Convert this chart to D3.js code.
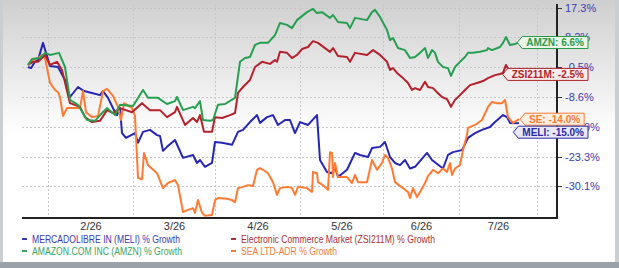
<!DOCTYPE html>
<html>
<head>
<meta charset="utf-8">
<script src="https://cdn.jsdelivr.net/npm/d3@7"></script>
<style>
  html, body { margin: 0; padding: 0; background: #fff; }
  svg { display: block; font-family: "Liberation Sans", Arial, sans-serif; }
</style>
</head>
<body>
<script>
// right axis tick values (%)
const yTicks = [17.3, 8.2, -0.5, -8.6, -15.9, -23.3, -30.1];
// month boundaries, in trading-day index
const monthStarts = [5, 26.25, 46.75, 68, 88.75, 107.75, 127.25];
const monthLabels = ["2/26", "3/26", "4/26", "5/26", "6/26", "7/26"];

// [day, % growth]
const meli = [[0,-0.5],[0.75,-0.8],[1.75,1.0],[2.5,1.5],[3.75,6.5],[5.5,-0.2],[7.5,-0.5],[9.25,-4.0],[10.5,-8.6],[12.5,-5.9],[14,-7.0],[16,-7.5],[18,-8.1],[18.75,-7.0],[20,-8.8],[21.75,-12.3],[22.25,-13.0],[23,-11.3],[23.5,-17.4],[24.5,-18.6],[26.75,-17.4],[27.5,-19.8],[28.75,-17.1],[30.5,-16.6],[32.25,-17.9],[33,-18.1],[33.75,-21.8],[34.75,-20.8],[36.75,-19.1],[38.75,-23.5],[41.25,-22.8],[42.25,-24.7],[43,-24.0],[44.25,-25.6],[46,-24.7],[46.75,-19.6],[48.5,-19.8],[51,-20.3],[52.5,-17.1],[53.75,-16.6],[55.5,-14.7],[57.25,-13.0],[58,-14.9],[59.75,-13.5],[61.25,-13.0],[62.5,-15.4],[64.25,-14.2],[65.5,-14.2],[66.75,-17.4],[68,-14.7],[70,-15.4],[72.25,-13.0],[73,-24.0],[74.75,-26.8],[76,-27.1],[76.75,-25.6],[77.5,-28.0],[79.75,-26.3],[81.75,-22.3],[83,-22.8],[85,-23.3],[86,-21.1],[88,-20.8],[89.25,-19.6],[90.5,-23.3],[91.75,-24.7],[93,-25.2],[94.25,-24.0],[95.5,-26.0],[96.75,-25.6],[99.75,-22.3],[101,-24.0],[103.75,-26.0],[105,-22.8],[106.25,-22.1],[108.5,-21.6],[110,-18.6],[111.75,-17.4],[113.5,-16.6],[115.5,-15.9],[116.75,-14.7],[118.75,-13.0],[119.75,-13.5],[120.5,-14.9],[122.75,-15.0]];

const zsi = [[0,0.1],[1.25,1.0],[2.5,1.0],[3.5,2.1],[4.25,3.0],[5.5,0.1],[7.25,1.0],[8.5,-1.3],[10.5,-10.1],[13,-11.0],[14.25,-13.5],[16,-14.7],[18,-14.4],[19.75,-11.8],[21.25,-12.5],[23,-11.3],[26,-12.3],[28.5,-10.1],[30.5,-11.8],[33,-11.8],[34.75,-13.5],[36.75,-12.3],[37.25,-11.0],[39.25,-15.4],[41.25,-13.7],[42.25,-14.7],[43,-13.0],[44,-17.1],[46,-17.1],[46.75,-13.5],[48.5,-13.7],[50.5,-13.0],[51.75,-12.5],[52.5,-7.5],[53.75,-5.9],[55.5,-4.0],[56.75,-0.5],[58.5,1.0],[60.5,0.4],[61.75,1.5],[62.25,1.0],[63,3.9],[64.75,3.6],[66,2.1],[67.25,3.0],[68.5,4.7],[70,5.3],[71.25,7.0],[72.5,6.5],[75.5,3.9],[76.25,5.0],[77.5,2.7],[79.75,2.4],[80.5,1.0],[81.75,3.6],[84.75,3.0],[86.25,4.4],[88,3.0],[89.75,1.0],[90.5,-1.3],[91.25,-0.8],[92.25,-2.1],[93.75,-3.5],[95,-4.8],[96,-6.7],[96.75,-6.2],[98,-6.7],[99.25,-4.5],[100,-5.9],[101.25,-6.2],[102.25,-7.3],[103.5,-8.6],[104.75,-9.1],[105.75,-11.0],[106.75,-9.3],[108,-8.1],[109.25,-6.7],[110.5,-5.4],[112.25,-4.8],[113.75,-4.3],[115,-3.5],[116.75,-2.7],[118,-2.4],[118.75,-2.1],[119.5,0.1],[120.5,-1.9],[121.75,-2.1],[122.75,-2.5]];

const amzn = [[0,0.1],[1,1.8],[3,2.1],[4.25,3.6],[5.5,3.0],[7.75,3.6],[9.25,-0.5],[10.5,-9.3],[12.5,-10.5],[14.75,-14.2],[16.75,-14.4],[18.5,-12.5],[19.75,-11.3],[21.75,-13.0],[23,-10.5],[26.25,-10.8],[28.75,-6.7],[30,-8.8],[32.5,-8.8],[34.75,-10.3],[36.75,-9.6],[37.25,-8.6],[38.75,-11.8],[41.25,-11.0],[41.75,-11.3],[43,-9.6],[43.75,-14.2],[45.5,-14.4],[46.25,-14.2],[47.5,-10.5],[49.25,-10.3],[51.75,-8.8],[53,1.0],[54.25,2.1],[55.5,2.4],[56.75,5.9],[58,6.5],[60,6.5],[61.75,8.8],[63,12.6],[64.75,12.0],[66,11.0],[67.25,13.5],[69.75,16.0],[71.25,17.0],[72.25,15.7],[73.5,16.0],[75.5,14.2],[76.25,15.1],[77.5,12.9],[79.75,12.6],[80.5,11.0],[81.75,14.2],[84.75,13.5],[86,16.0],[86.75,16.7],[88,14.5],[89.75,10.4],[90.5,7.3],[91.25,7.9],[92.5,5.0],[94.25,4.4],[95.5,2.1],[96.75,2.4],[98,3.6],[99.25,5.0],[100,2.1],[101,4.4],[101.75,3.6],[102.5,1.0],[103.75,-0.5],[105,-0.8],[105.75,-2.9],[106.75,-0.5],[108,1.0],[109.25,2.4],[110,3.6],[111.25,3.6],[113,3.9],[114.75,4.4],[115,5.0],[116,4.4],[118,5.3],[118.75,6.5],[119.5,8.2],[120.5,5.9],[121.75,6.2],[122.75,6.6]];

const sea = [[0,0.1],[1,1.5],[2.5,2.1],[3.5,3.0],[4.25,2.1],[5.5,-4.8],[6.75,-6.7],[7.5,-7.3],[8,-8.6],[8.75,-13.2],[9.75,-11.3],[13,-11.3],[13.75,-7.0],[14.5,-12.3],[16,-13.5],[17.5,-13.2],[18.75,-7.0],[19.75,-6.4],[21.25,-8.3],[22.5,-11.0],[23.25,-14.2],[24,-10.1],[26,-11.3],[26.75,-13.2],[27.5,-28.2],[28.5,-28.5],[29,-22.3],[30,-25.2],[32.25,-27.1],[33.75,-30.6],[35,-29.4],[36.75,-28.7],[37.5,-29.9],[38.75,-36.2],[40,-35.7],[41.25,-35.3],[41.75,-36.4],[42.5,-33.4],[43.5,-36.4],[44.25,-37.1],[46,-36.9],[46.75,-33.4],[47.5,-32.9],[49.75,-33.1],[51,-33.4],[51.75,-33.9],[52.5,-30.6],[53.75,-30.3],[55,-29.9],[56.25,-30.1],[57.25,-26.3],[58,-25.9],[58.75,-26.3],[60,-27.1],[61.25,-29.2],[62.25,-32.2],[63,-30.6],[65,-30.3],[66,-30.6],[66.75,-32.2],[67.5,-30.3],[69.75,-30.6],[71,-31.5],[71.25,-26.8],[72.25,-27.1],[72.5,-29.2],[73.75,-29.9],[75,-31.0],[75.5,-22.1],[76,-22.3],[76.25,-28.0],[76.75,-24.7],[77.5,-28.0],[79.75,-28.0],[81,-29.4],[81.75,-27.5],[82.5,-29.2],[84.75,-29.2],[86,-24.0],[87.25,-26.3],[88.5,-24.7],[89.25,-22.8],[90,-23.5],[91,-26.0],[91.75,-29.2],[93.75,-30.6],[95,-31.5],[95.5,-32.9],[96.25,-30.6],[97.25,-32.7],[98,-31.5],[99.25,-29.4],[100,-27.8],[101.25,-26.3],[102.5,-27.1],[103.75,-26.0],[104.75,-26.8],[105.5,-24.7],[106,-27.5],[106.75,-26.0],[108,-25.2],[108.75,-21.6],[109.75,-17.9],[110,-16.1],[111.75,-15.4],[113.5,-14.2],[115,-11.0],[116,-9.8],[117.25,-10.1],[118.5,-10.1],[119.25,-9.3],[120,-13.5],[121.25,-14.9],[122.75,-14.0]];

const width = 619, height = 268;
const plotLeft = 22, plotRight = 557, plotTop = 5, plotBottom = 218;

const svg = d3.select("body").append("svg")
  .attr("width", width)
  .attr("height", height);

// background
const defs = svg.append("defs");
const grad = defs.append("linearGradient")
  .attr("id", "bg").attr("x1", 0).attr("y1", 0).attr("x2", 0).attr("y2", 1);
grad.append("stop").attr("offset", "0%").attr("stop-color", "#cfcfcf");
grad.append("stop").attr("offset", "50%").attr("stop-color", "#ffffff");
grad.append("stop").attr("offset", "100%").attr("stop-color", "#ffffff");

svg.append("rect").attr("width", width).attr("height", height).attr("fill", "url(#bg)");
svg.append("rect").attr("x", 0).attr("y", 0).attr("width", 3).attr("height", height).attr("fill", "#c9ced3");
svg.append("rect").attr("x", width - 4).attr("y", 0).attr("width", 4).attr("height", height).attr("fill", "#c9ced3");
svg.append("rect").attr("x", 0).attr("y", height - 6).attr("width", width).attr("height", 6).attr("fill", "#9aa1a8");

// scales
const x = d3.scaleLinear().domain([0, 122.75]).range([28, 519]);
const y = d3.scaleLinear().domain(yTicks).range([8, 37, 67, 97, 127, 157, 186]);

// grid
const grid = svg.append("g").attr("stroke", "#c6c6c6").attr("stroke-dasharray", "2,2").attr("stroke-width", 1);
grid.selectAll(".h").data(yTicks).enter().append("line")
  .attr("x1", plotLeft).attr("x2", plotRight)
  .attr("y1", d => Math.round(y(d)) + 0.5).attr("y2", d => Math.round(y(d)) + 0.5);
grid.selectAll(".v").data(monthStarts).enter().append("line")
  .attr("x1", d => Math.round(x(d)) + 0.5).attr("x2", d => Math.round(x(d)) + 0.5)
  .attr("y1", plotTop).attr("y2", plotBottom);

// lines
const series = [
  { data: meli, color: "#2626b4" },
  { data: sea, color: "#ff7a33" },
  { data: zsi, color: "#b5212a" },
  { data: amzn, color: "#26a050" }
];
const line = d3.line().x(d => x(d[0])).y(d => y(d[1]));
svg.append("g").selectAll("path").data(series).enter().append("path")
  .attr("d", d => line(d.data))
  .attr("fill", "none")
  .attr("stroke", d => d.color)
  .attr("stroke-width", 2)
  .attr("stroke-linejoin", "round");

// x axis
const labelPos = monthLabels.map((m, i) => (monthStarts[i] + monthStarts[i + 1]) / 2);
const xAxis = svg.append("g")
  .attr("transform", `translate(0,${plotBottom})`)
  .call(d3.axisBottom(x).tickValues(labelPos).tickFormat((d, i) => monthLabels[i]).tickSize(0).tickPadding(4));
xAxis.select(".domain").remove();
xAxis.selectAll("text").attr("fill", "#333").style("font-size", "11px");
svg.append("line")
  .attr("x1", plotLeft).attr("x2", plotRight + 1)
  .attr("y1", plotBottom).attr("y2", plotBottom)
  .attr("stroke", "#222").attr("stroke-width", 2);

// right axis
const yAxis = svg.append("g")
  .attr("transform", `translate(${plotRight},0)`)
  .call(d3.axisRight(y).tickValues(yTicks).tickFormat(d => d.toFixed(1) + "%").tickSize(5).tickPadding(3));
yAxis.select(".domain").remove();
yAxis.selectAll("line").attr("stroke", "#333");
yAxis.selectAll("text").attr("fill", "#3b3bb3").style("font-size", "11px");
svg.append("line")
  .attr("x1", plotRight).attr("x2", plotRight)
  .attr("y1", 4).attr("y2", plotBottom + 1)
  .attr("stroke", "#222").attr("stroke-width", 2);

// end labels
const endLabels = [
  { name: "AMZN", data: amzn, color: "#2a9a4c", fill: "#ebf6e7" },
  { name: "ZSI211M", data: zsi, color: "#b0232b", fill: "#f9ecea" },
  { name: "SE", data: sea, color: "#f47a35", fill: "#fdefe0" },
  { name: "MELI", data: meli, color: "#2a2aa6", fill: "#e9e9f6" }
];
endLabels.forEach(d => { d.yc = y(d.data[d.data.length - 1][1]); });
endLabels.sort((a, b) => a.yc - b.yc);
for (let i = 1; i < endLabels.length; i++) {
  if (endLabels[i].yc - endLabels[i - 1].yc < 13) endLabels[i].yc = endLabels[i - 1].yc + 13;
}
const lab = svg.append("g");
endLabels.forEach(d => {
  const g = lab.append("g");
  const t = g.append("text")
    .attr("y", d.yc + 3.5)
    .attr("fill", d.color)
    .style("font-size", "10px")
    .style("font-weight", "bold")
    .text(`${d.name}: ${d.data[d.data.length - 1][1].toFixed(1)}%`);
  const w = t.node().getComputedTextLength();
  const boxW = w + 8;
  const x0 = Math.min(520, 588 - boxW - 5);
  t.attr("x", x0 + 9);
  const h = 6;
  g.insert("path", "text")
    .attr("d", `M${x0},${d.yc} L${x0 + 5},${d.yc - h} L${x0 + 5 + boxW},${d.yc - h} L${x0 + 5 + boxW},${d.yc + h} L${x0 + 5},${d.yc + h} Z`)
    .attr("fill", d.fill)
    .attr("stroke", d.color)
    .attr("stroke-width", 1);
});

// legend
const legend = [
  { text: "MERCADOLIBRE IN (MELI) % Growth", color: "#3a3ab0", x: 22, row: 0, w: 148 },
  { text: "AMAZON.COM INC (AMZN) % Growth", color: "#3aa35e", x: 22, row: 1, w: 150 },
  { text: "Electronic Commerce Market (ZSI211M) % Growth", color: "#a83036", x: 231, row: 0, w: 194 },
  { text: "SEA LTD-ADR % Growth", color: "#f27b3c", x: 231, row: 1, w: 96 }
];
const lg = svg.append("g");
legend.forEach(d => {
  const cy = 239 + d.row * 12;
  lg.append("line")
    .attr("x1", d.x).attr("x2", d.x + 5)
    .attr("y1", cy).attr("y2", cy)
    .attr("stroke", d.color).attr("stroke-width", 2);
  lg.append("text")
    .attr("x", d.x + 10).attr("y", cy + 4)
    .attr("fill", d.color)
    .style("font-size", "11px")
    .attr("textLength", d.w)
    .attr("lengthAdjust", "spacingAndGlyphs")
    .text(d.text);
});
</script>
</body>
</html>
